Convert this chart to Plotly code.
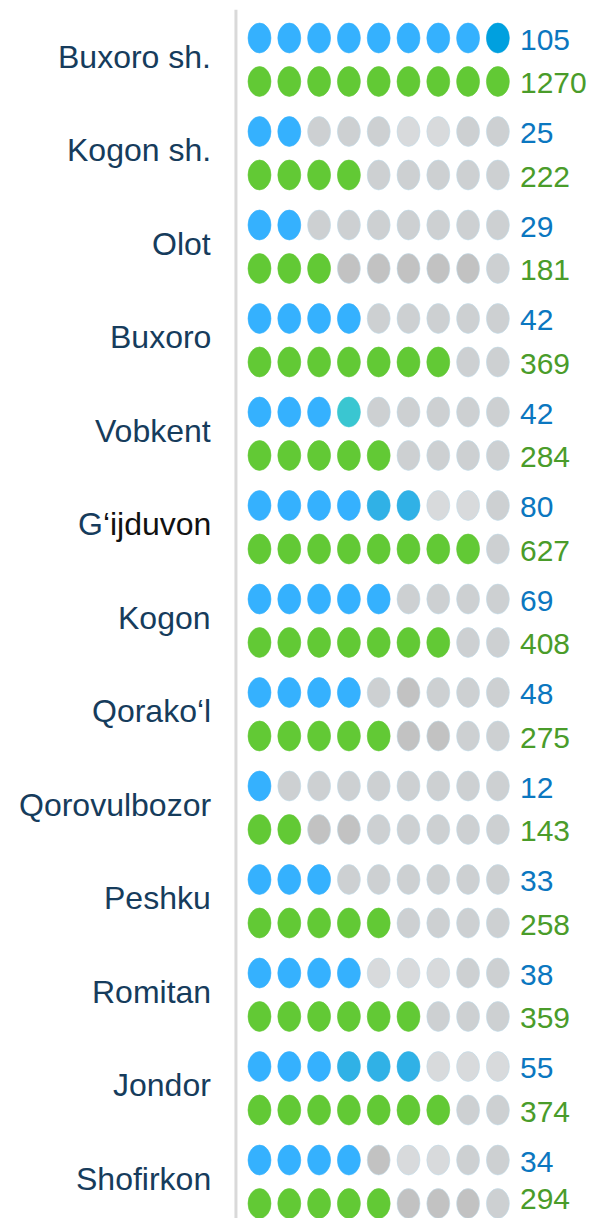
import plotly.graph_objects as go

# Districts of Buxoro region, two indicators per district
districts = ["Buxoro sh.", "Kogon sh.", "Olot", "Buxoro", "Vobkent", "G‘ijduvon", "Kogon",
             "Qorako‘l", "Qorovulbozor", "Peshku", "Romitan", "Jondor", "Shofirkon"]
blue_values = [105, 25, 29, 42, 42, 80, 69, 48, 12, 33, 38, 55, 34]
green_values = [1270, 222, 181, 369, 284, 627, 408, 275, 143, 258, 359, 374, 294]
# number of filled dots (out of 9) shown for each indicator
blue_filled = [9, 2, 2, 4, 4, 6, 5, 4, 1, 3, 4, 6, 4]
green_filled = [9, 4, 3, 7, 5, 8, 7, 5, 2, 5, 6, 7, 5]
n_dots = 9

BLUE = "#35B1FE"
GREEN = "#62C935"
GRAY = "#CDD0D2"
GRAY_DARK = "#C2C2C2"
GRAY_LIGHT = "#D8DADC"
BLUE_MID = "#30B1E6"
TEXT_NAVY = "#163C5C"
VAL_BLUE = "#0B77C0"
VAL_GREEN = "#4A9C2A"

# individual dot shading: (district, row 0=blue 1=green, dot index) -> colour
dot_colors = {(0, 0, 8): "#00A0DF", (4, 0, 3): "#3AC6D1",
              (5, 0, 4): BLUE_MID, (5, 0, 5): BLUE_MID,
              (11, 0, 3): BLUE_MID, (11, 0, 4): BLUE_MID, (11, 0, 5): BLUE_MID}
for i in range(3, 8):
    dot_colors[(2, 1, i)] = GRAY_DARK
for k in [(7, 0, 5), (7, 1, 5), (7, 1, 6), (8, 1, 2), (8, 1, 3),
          (12, 0, 4), (12, 1, 5), (12, 1, 6), (12, 1, 7)]:
    dot_colors[k] = GRAY_DARK
for k in [(1, 0, 5), (1, 0, 6), (5, 0, 6), (5, 0, 7), (10, 0, 4), (10, 0, 5),
          (10, 0, 6), (11, 0, 6), (11, 0, 7), (11, 0, 8), (12, 0, 5), (12, 0, 6)]:
    dot_colors[k] = GRAY_LIGHT

ROW_GAP = 0.465      # vertical offset of the second row inside a district
DOT_W = 0.77         # ellipse width in dot-index units
DOT_H = 0.32         # ellipse height in district units
Y_MIN, Y_MAX = -0.4064, 12.620
LABEL_LIMIT = Y_MAX - 0.21   # keeps the lowest value label inside the page
FONT = "Liberation Sans, Arial"

fig = go.Figure()
shapes = []
annotations = []

for g, name in enumerate(districts):
    rows = [(blue_filled[g], BLUE, blue_values[g], VAL_BLUE),
            (green_filled[g], GREEN, green_values[g], VAL_GREEN)]
    for r, (filled, col, val, vcol) in enumerate(rows):
        yc = g + r * ROW_GAP
        for i in range(n_dots):
            c = col if i < filled else GRAY
            c = dot_colors.get((g, r, i), c)
            empty = i >= filled
            shapes.append(dict(
                type="circle", xref="x", yref="y",
                x0=i - DOT_W / 2, x1=i + DOT_W / 2,
                y0=yc - DOT_H / 2, y1=yc + DOT_H / 2,
                fillcolor=c,
                line=dict(color="#BFDCEB" if empty else c, width=0.6),
                layer="above"))
        annotations.append(dict(
            x=8.71, y=min(yc + 0.012, LABEL_LIMIT), xref="x", yref="y",
            text=str(val), showarrow=False, xanchor="left", yanchor="middle",
            borderpad=0, font=dict(family=FONT, size=30, color=vcol)))
    label = name
    if name.startswith("G‘"):
        label = f"<span style='color:{TEXT_NAVY}'>G</span>‘ijduvon"
    annotations.append(dict(
        x=-1.56, y=g + ROW_GAP / 2 - 0.03, xref="x", yref="y", text=label,
        showarrow=False, xanchor="right", yanchor="middle",
        font=dict(family=FONT, size=32,
                  color="#111111" if name.startswith("G‘") else TEXT_NAVY)))

# vertical separator between names and dots
shapes.append(dict(type="line", xref="x", yref="paper", x0=-0.79, x1=-0.79,
                   y0=0.0, y1=0.992, line=dict(color="#D9D9D9", width=3)))

# invisible trace so the axes are set up
fig.add_trace(go.Scatter(x=[0, n_dots - 1], y=[0, len(districts) - 1],
                         mode="markers", marker=dict(opacity=0),
                         hoverinfo="skip", showlegend=False))

fig.update_layout(
    width=590, height=1218,
    margin=dict(l=0, r=0, t=0, b=0),
    paper_bgcolor="white", plot_bgcolor="white",
    shapes=shapes, annotations=annotations,
    xaxis=dict(range=[-8.708, 11.091], visible=False, fixedrange=True),
    yaxis=dict(range=[Y_MAX, Y_MIN], visible=False, fixedrange=True),
    showlegend=False,
)

fig.write_html("out.html")
